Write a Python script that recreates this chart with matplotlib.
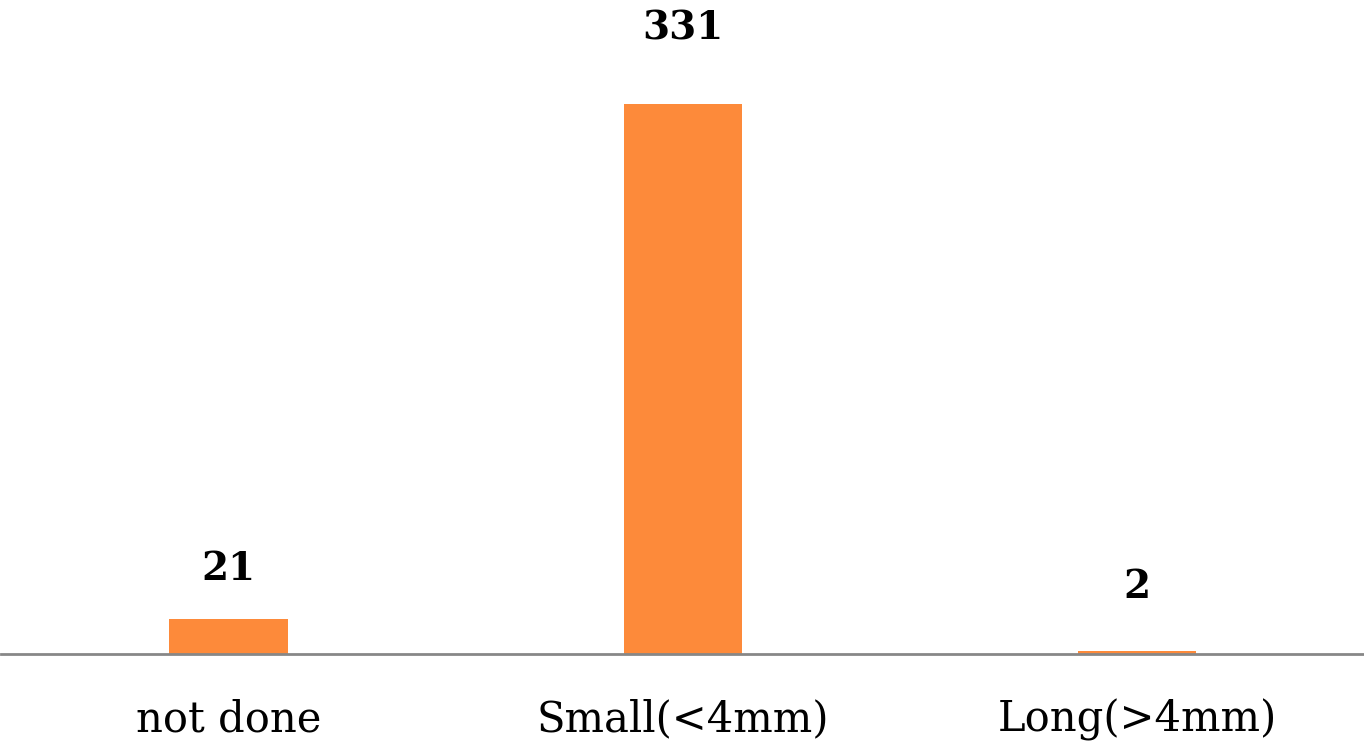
import matplotlib.pyplot as plt

categories = ["not done", "Small(<4mm)", "Long(>4mm)"]
counts = [21, 331, 2]

# label offsets above bar tops, in pixels (as in the original layout)
label_offsets = [50, 76, 64]

fig = plt.figure(figsize=(13.64, 7.51), dpi=100)
ax = fig.add_axes([0.001, (751 - 654) / 751, 0.999, 654 / 751])

x = range(len(categories))
bars = ax.bar(x, counts, width=0.26, color="#FD8A3A", zorder=2)

ax.set_xlim(-0.5, 2.5)
ax.set_ylim(0, 331 * 654 / 550)

for rect, val, off in zip(bars, counts, label_offsets):
    ax.annotate(str(val), (rect.get_x() + rect.get_width() / 2, rect.get_height()),
                xytext=(0, off), textcoords="offset pixels",
                ha="center", va="center", fontsize=28, fontweight="bold",
                family="DejaVu Serif")

ax.set_xticks(list(x))
ax.set_xticklabels(categories, fontsize=30, family="DejaVu Serif")
ax.tick_params(axis="x", length=0, pad=32)
ax.set_yticks([])

for s in ["top", "left", "right"]:
    ax.spines[s].set_visible(False)
ax.spines["bottom"].set_color("#878787")
ax.spines["bottom"].set_linewidth(2)

fig.savefig("out.png", dpi=100)
